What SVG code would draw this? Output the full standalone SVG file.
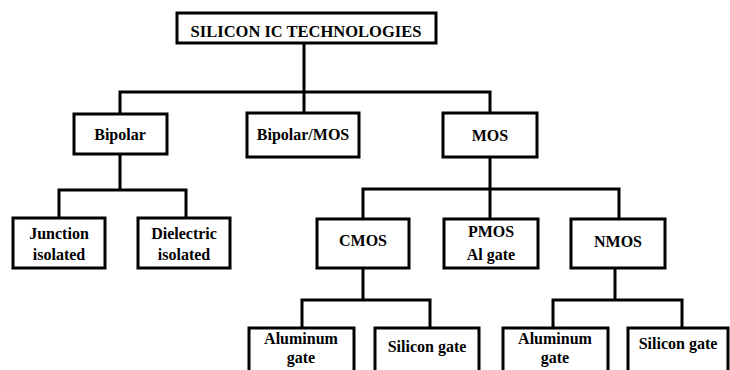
<svg xmlns="http://www.w3.org/2000/svg" width="730" height="370" viewBox="0 0 730 370">
<style>
.box{fill:#fff;stroke:#000;stroke-width:3}
.lbl{font-family:"Liberation Serif","Times New Roman",serif;font-weight:bold;font-size:16px;fill:#000;text-anchor:middle}
.conn{fill:none;stroke:#000;stroke-width:3;stroke-linecap:square}
</style>
<rect width="730" height="370" fill="#fff"/>
<g id="connectors">
<path class="conn" d="M304,43 V92 M120,92 H490 M120,92 V114 M304,92 V113 M490,92 V113"/>
<path class="conn" d="M120,154 V190 M59,190 H186 M59,190 V218 M186,190 V218"/>
<path class="conn" d="M490,157 V189 M363,189 H619 M363,189 V219 M490,189 V219 M619,189 V219"/>
<path class="conn" d="M363,268 V300 M302,300 H430 M302,300 V328 M430,300 V328"/>
<path class="conn" d="M615,268 V300 M553,300 H682 M553,300 V328 M682,300 V328"/>
</g>
<g id="root"><rect class="box" x="177" y="13" width="259" height="30"/><text class="lbl" x="306" y="37" style="font-size:16.5px">SILICON IC TECHNOLOGIES</text></g>
<g id="bipolar"><rect class="box" x="74" y="114" width="93" height="40"/><text class="lbl" x="120" y="140">Bipolar</text></g>
<g id="bipolarmos"><rect class="box" x="247" y="113" width="112" height="44"/><text class="lbl" x="303" y="140">Bipolar/MOS</text></g>
<g id="mos"><rect class="box" x="443" y="113" width="94" height="44"/><text class="lbl" x="490" y="141">MOS</text></g>
<g id="junction"><rect class="box" x="13" y="218" width="92" height="50"/><text class="lbl" x="59" y="239">Junction</text><text class="lbl" x="59" y="260">isolated</text></g>
<g id="dielectric"><rect class="box" x="138" y="218" width="92" height="50"/><text class="lbl" x="184" y="239">Dielectric</text><text class="lbl" x="184" y="260">isolated</text></g>
<g id="cmos"><rect class="box" x="317" y="219" width="92" height="49"/><text class="lbl" x="363" y="246">CMOS</text></g>
<g id="pmos"><rect class="box" x="444" y="219" width="94" height="49"/><text class="lbl" x="491" y="237">PMOS</text><text class="lbl" x="491" y="260">Al gate</text></g>
<g id="nmos"><rect class="box" x="571" y="219" width="94" height="49"/><text class="lbl" x="618" y="247">NMOS</text></g>
<g id="cmos-al"><rect class="box" x="249" y="328" width="105" height="60"/><text class="lbl" x="301" y="344">Aluminum</text><text class="lbl" x="301" y="363">gate</text></g>
<g id="cmos-si"><rect class="box" x="375" y="328" width="104" height="60"/><text class="lbl" x="427" y="352">Silicon gate</text></g>
<g id="nmos-al"><rect class="box" x="503" y="328" width="105" height="60"/><text class="lbl" x="555" y="344">Aluminum</text><text class="lbl" x="555" y="363">gate</text></g>
<g id="nmos-si"><rect class="box" x="628" y="328" width="100" height="60"/><text class="lbl" x="678" y="349">Silicon gate</text></g>
</svg>
